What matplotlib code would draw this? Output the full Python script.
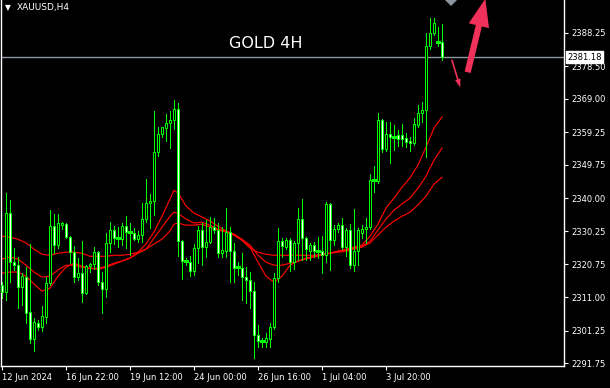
import matplotlib
matplotlib.use('Agg')
import matplotlib.pyplot as plt
from matplotlib.patches import Rectangle, Polygon, FancyArrowPatch
import matplotlib.transforms as mtransforms

# ---------------- data (XAUUSD H4) ----------------
opens = [2314.6, 2312.5, 2335.6, 2321.3, 2320.4, 2314.0, 2316.9, 2306.7, 2298.8, 2303.5,
         2302.3, 2305.2, 2315.2, 2331.8, 2326.3, 2332.1, 2332.4, 2328.6, 2324.2, 2316.9,
         2318.1, 2312.2, 2320.1, 2320.7, 2324.2, 2315.4, 2313.4, 2326.9, 2330.7, 2328.3,
         2328.0, 2331.8, 2330.1, 2329.8, 2328.0, 2329.2, 2333.9, 2338.5, 2339.1, 2353.5,
         2358.7, 2360.5, 2361.9, 2362.8, 2366.0, 2327.4, 2321.6, 2321.3, 2318.7, 2325.4,
         2330.7, 2325.7, 2327.1, 2331.5, 2330.7, 2323.9, 2324.5, 2330.1, 2324.5, 2319.8,
         2319.5, 2316.9, 2316.0, 2312.8, 2300.0, 2298.2, 2297.9, 2298.8, 2302.3, 2316.6,
         2327.4, 2325.7, 2327.7, 2321.3, 2326.9, 2333.9, 2328.3, 2324.5, 2326.3, 2324.5,
         2324.5, 2323.3, 2338.3, 2327.7, 2330.9, 2332.1, 2325.7, 2330.7, 2320.4, 2324.5,
         2329.8, 2330.9, 2331.5, 2345.3, 2345.0, 2362.8, 2354.3, 2358.7, 2357.8, 2358.4,
         2358.4, 2357.6, 2356.7, 2356.1, 2361.4, 2364.9, 2365.7, 2384.5, 2388.3, 2385.6,
         2385.6]
highs = [2315.4, 2341.5, 2339.4, 2325.4, 2322.8, 2318.1, 2319.8, 2326.6, 2304.9, 2304.3,
         2308.4, 2316.9, 2336.5, 2335.3, 2335.3, 2332.9, 2332.6, 2328.8, 2326.0, 2322.5,
         2327.4, 2320.4, 2321.0, 2325.7, 2324.5, 2318.4, 2329.8, 2333.0, 2331.8, 2331.5,
         2332.7, 2334.7, 2332.7, 2331.2, 2330.4, 2338.5, 2345.6, 2341.2, 2365.4, 2360.8,
         2360.9, 2364.6, 2365.4, 2368.7, 2367.8, 2327.7, 2322.5, 2323.1, 2326.6, 2331.8,
         2332.7, 2333.6, 2334.5, 2334.2, 2332.7, 2331.5, 2337.1, 2331.5, 2326.9, 2321.3,
         2323.9, 2319.8, 2318.4, 2315.4, 2302.9, 2299.1, 2300.5, 2303.5, 2318.1, 2331.2,
         2328.3, 2328.3, 2328.3, 2327.4, 2337.1, 2339.7, 2328.6, 2326.9, 2327.1, 2328.6,
         2328.9, 2338.8, 2338.5, 2332.1, 2332.7, 2334.2, 2331.2, 2332.4, 2336.8, 2331.2,
         2332.1, 2334.2, 2347.0, 2349.4, 2364.9, 2363.2, 2362.2, 2362.2, 2361.4, 2359.9,
         2361.6, 2359.0, 2357.8, 2363.4, 2367.2, 2368.1, 2388.3, 2392.6, 2392.6, 2390.0,
         2390.9]
lows = [2310.8, 2310.2, 2315.4, 2319.0, 2307.8, 2308.7, 2303.4, 2297.6, 2295.3, 2301.4,
        2301.1, 2303.5, 2314.6, 2323.9, 2325.4, 2330.9, 2328.3, 2321.0, 2315.4, 2316.0,
        2309.6, 2312.0, 2318.4, 2319.2, 2314.6, 2306.4, 2311.1, 2324.2, 2326.6, 2325.7,
        2326.3, 2325.4, 2323.3, 2327.7, 2327.1, 2327.1, 2333.0, 2331.2, 2335.0, 2352.3,
        2357.8, 2356.7, 2354.6, 2360.2, 2323.1, 2316.3, 2320.4, 2317.2, 2317.5, 2321.0,
        2320.4, 2322.8, 2326.9, 2329.8, 2322.8, 2322.8, 2322.8, 2315.4, 2315.4, 2317.5,
        2310.2, 2309.3, 2307.8, 2293.2, 2296.4, 2296.4, 2296.4, 2296.4, 2301.7, 2315.4,
        2322.8, 2325.1, 2318.7, 2319.2, 2321.9, 2321.9, 2321.9, 2321.9, 2322.8, 2322.5,
        2318.1, 2321.3, 2318.9, 2326.3, 2330.1, 2325.1, 2323.1, 2319.5, 2318.7, 2320.4,
        2328.3, 2326.9, 2331.0, 2341.8, 2344.4, 2353.5, 2353.8, 2350.2, 2354.0, 2355.2,
        2355.2, 2354.9, 2353.8, 2355.5, 2360.8, 2362.2, 2352.0, 2383.6, 2387.7, 2384.5,
        2380.4]
closes = [2312.5, 2335.6, 2321.3, 2320.4, 2314.0, 2317.2, 2306.4, 2298.8, 2303.8, 2302.3,
          2305.5, 2315.2, 2331.8, 2326.3, 2332.7, 2332.7, 2328.6, 2324.2, 2316.9, 2318.1,
          2312.2, 2320.1, 2320.7, 2324.2, 2315.4, 2313.4, 2326.9, 2330.7, 2328.3, 2328.0,
          2331.8, 2330.1, 2329.8, 2328.0, 2329.2, 2333.9, 2338.5, 2339.1, 2353.5, 2358.7,
          2360.8, 2361.9, 2362.8, 2366.0, 2327.4, 2321.6, 2321.3, 2318.7, 2325.4, 2330.7,
          2325.7, 2327.1, 2331.5, 2330.7, 2323.9, 2324.8, 2330.1, 2324.5, 2319.5, 2319.5,
          2316.9, 2316.0, 2312.8, 2300.0, 2298.2, 2298.5, 2299.1, 2302.3, 2316.6, 2327.4,
          2326.0, 2327.7, 2321.3, 2326.9, 2333.9, 2328.3, 2325.1, 2326.3, 2324.5, 2324.2,
          2323.3, 2338.3, 2327.7, 2330.9, 2332.1, 2325.7, 2330.7, 2320.4, 2324.5, 2330.7,
          2330.9, 2331.5, 2345.3, 2345.0, 2362.8, 2354.3, 2358.7, 2357.8, 2357.6, 2357.3,
          2357.3, 2356.4, 2356.1, 2361.6, 2364.9, 2365.7, 2384.5, 2388.3, 2391.2, 2385.9,
          2381.18]

# moving averages at these bar indices
ma_idx = [0, 2, 4, 6, 8, 10, 12, 14, 16, 18, 20, 22, 24, 26, 28, 30, 32, 34, 36, 38, 40, 42, 43, 44,
          46, 48, 50, 52, 54, 56, 58, 60, 62, 64, 66, 68, 70, 72, 74, 76, 78, 80, 82, 84, 86, 88,
          90, 92, 94, 96, 98, 100, 102, 104, 106, 108, 110]
ma_fast = [2318.1, 2318.4, 2318.4, 2317.2, 2314.9, 2312.8, 2313.7, 2317.2, 2319.8, 2321.0,
           2320.1, 2319.5, 2319.5, 2320.1, 2321.0, 2321.6, 2322.5, 2324.2, 2326.6, 2330.1,
           2334.7, 2339.7, 2342.3, 2341.5, 2337.7, 2335.6, 2334.5, 2333.3, 2331.8, 2330.4,
           2329.2, 2327.7, 2325.7, 2321.3, 2317.2, 2315.4, 2317.2, 2320.4, 2321.6, 2322.2,
           2322.8, 2323.3, 2323.9, 2324.5, 2325.1, 2325.7, 2326.3, 2328.9, 2332.4, 2337.1,
           2340.0, 2343.2, 2345.9, 2349.7, 2354.9, 2360.5, 2363.7]
ma_mid = [2322.2, 2322.8, 2322.2, 2320.4, 2318.4, 2316.9, 2317.2, 2319.0, 2320.4, 2320.4,
          2319.8, 2319.5, 2319.2, 2319.8, 2320.7, 2321.6, 2322.5, 2323.9, 2325.1, 2328.3,
          2331.5, 2334.7, 2335.9, 2335.6, 2333.9, 2332.7, 2333.0, 2332.1, 2330.9, 2330.4,
          2329.5, 2328.0, 2326.3, 2323.3, 2321.3, 2320.4, 2320.4, 2321.0, 2321.6, 2322.5,
          2323.0, 2323.6, 2323.9, 2324.5, 2324.8, 2325.4, 2326.0, 2327.4, 2330.7, 2333.9,
          2336.5, 2338.3, 2340.0, 2342.9, 2346.4, 2351.1, 2354.6]
ma_slow = [2328.9, 2328.6, 2328.0, 2326.9, 2325.1, 2323.6, 2323.3, 2323.9, 2324.2, 2324.2,
           2323.9, 2323.0, 2323.0, 2323.0, 2323.3, 2323.3, 2323.6, 2324.2, 2325.1, 2326.6,
           2328.0, 2330.4, 2332.4, 2332.7, 2332.1, 2332.1, 2332.4, 2331.5, 2330.7, 2330.1,
           2329.2, 2327.7, 2325.4, 2324.2, 2323.6, 2323.3, 2323.3, 2323.3, 2323.3, 2323.3,
           2323.3, 2323.6, 2323.9, 2324.2, 2324.5, 2325.1, 2325.7, 2326.9, 2329.2, 2331.5,
           2333.3, 2334.7, 2335.9, 2338.0, 2340.6, 2344.1, 2346.1]

x_tick_bars = [0, 16, 32, 48, 64, 80, 96]
x_tick_labels = ['12 Jun 2024', '16 Jun 22:00', '19 Jun 12:00', '24 Jun 00:00',
                 '26 Jun 16:00', '1 Jul 04:00', '3 Jul 20:00']
y_ticks = [2388.25, 2378.50, 2369.00, 2359.25, 2349.75, 2340.00, 2330.25,
           2320.75, 2311.00, 2301.25, 2291.75]
last_price = 2381.18
symbol = 'XAUUSD,H4'
title = 'GOLD 4H'

# ---------------- figure ----------------
W, H = 610, 388
fig = plt.figure(figsize=(W / 100, H / 100), dpi=100, facecolor='black')
ax = fig.add_axes([1 / W, (H - 366) / H, 563 / W, 366 / H], facecolor='black')

GREEN = '#00FF00'
lw_px = 72 / 100  # one pixel in points

for i, (o, h, l, c) in enumerate(zip(opens, highs, lows, closes)):
    ax.plot([i, i], [l, h], color=GREEN, lw=lw_px, solid_capstyle='butt',
            antialiased=False, zorder=2)
    lo, hi = min(o, c), max(o, c)
    if hi - lo < 0.35:
        ax.plot([i - 0.3, i + 0.3], [o, o], color=GREEN, lw=lw_px * 1.3,
                antialiased=False, zorder=3)
    else:
        face = 'black' if c > o else 'white'
        ax.add_patch(Rectangle((i - 0.28, lo), 0.56, hi - lo, facecolor=face,
                               edgecolor=GREEN, lw=lw_px, zorder=3))

for vals in (ma_fast, ma_mid, ma_slow):
    ax.plot(ma_idx, vals, color='#FF0000', lw=0.85, zorder=1.5)

ax.axhline(last_price, color='#8C96A0', lw=1.0, zorder=1)

ax.set_xlim(-0.25, 140.5)
ax.set_ylim(2290.95, 2397.89)

ax.spines['top'].set_visible(False)
for s in ('left', 'right', 'bottom'):
    ax.spines[s].set_color('white')
    ax.spines[s].set_linewidth(1.0)

ax.yaxis.tick_right()
ax.set_yticks(y_ticks)
ax.set_yticklabels([f'{v:.2f}' for v in y_ticks])
ax.tick_params(axis='y', colors='white', labelcolor='white', length=3, width=0.8,
               labelsize=6, pad=2)
ax.set_xticks(x_tick_bars)
ax.set_xticklabels(x_tick_labels)
ax.tick_params(axis='x', colors='white', labelcolor='white', length=3, width=0.8,
               labelsize=6, pad=2)
for lab in ax.get_xticklabels():
    lab.set_ha('left')

# current price box
trans = mtransforms.blended_transform_factory(ax.transAxes, ax.transData)
ax.text(1.006, last_price, f'{last_price:.2f}', transform=trans, fontsize=6, color='black',
        va='center', ha='left', zorder=10,
        bbox=dict(boxstyle='square,pad=0.15', facecolor='white', edgecolor='white'))

# header texts
fig.text(5 / W, 1 - 7.5 / H, '\u25BC', color='white', fontsize=5.5, va='center', ha='left')
fig.text(17 / W, 1 - 7.5 / H, symbol, color='white', fontsize=6.5, va='center', ha='left')
fig.text(266 / W, 1 - 43 / H, title, color='white', fontsize=11.5, va='center', ha='center')

# annotations (arrows)
PINK = '#F0325A'
def fp(px, py):
    return (px / W, 1 - py / H)

small = FancyArrowPatch(fp(451, 57), fp(461, 90), transform=fig.transFigure,
                        arrowstyle='simple,head_width=4,head_length=6,tail_width=1.2',
                        color=PINK, lw=0)
fig.patches.append(small)
big = FancyArrowPatch(fp(467, 75), fp(486, -4), transform=fig.transFigure,
                      arrowstyle='simple,head_width=15,head_length=20,tail_width=4.5',
                      color=PINK, lw=0)
fig.patches.append(big)
tri = Polygon([fp(445, 0), fp(457, 0), fp(451, 6)], closed=True, transform=fig.transFigure,
              facecolor='#8C96A0', edgecolor='none')
fig.patches.append(tri)

fig.savefig('out.png', dpi=100, facecolor='black')
